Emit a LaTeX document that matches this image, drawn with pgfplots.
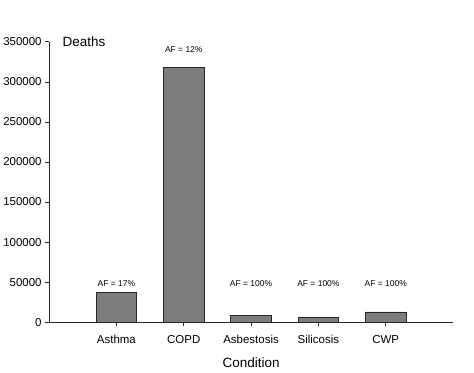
\documentclass[border=0pt]{standalone}
\usepackage{fontspec}
\setmainfont{Liberation Sans}
\usepackage{pgfplots}
\pgfplotsset{compat=1.18}
\definecolor{barfill}{RGB}{125,125,125}
\begin{document}
\begin{tikzpicture}
\path (-48pt,-50pt) rectangle (426pt,323pt);
\begin{axis}[
  anchor=south west, at={(0pt,0pt)},
  scale only axis, width=405pt, height=281pt,
  xmin=-1, xmax=5, ymin=0, ymax=350000,
  axis x line*=bottom, axis y line*=left,
  axis line style={-, line width=0.8pt, black!85},
  ytick={0,50000,100000,150000,200000,250000,300000,350000},
  scaled y ticks=false,
  /pgf/number format/assume math mode=true,
  yticklabel style={/pgf/number format/fixed, /pgf/number format/1000 sep={}},
  xtick={0,1,2,3,4},
  xticklabels={Asthma,COPD,Asbestosis,Silicosis,CWP},
  tick align=outside, major tick length=4pt,
  tick style={black!85, line width=0.8pt},
  ticklabel style={font=\fontsize{11.5}{13}\selectfont},
  xticklabel style={yshift=-6pt},
  xlabel={Condition},
  xlabel style={font=\fontsize{13.5}{15}\selectfont, yshift=-7pt},
  clip=false,
]
\addplot[ybar, bar width=40.5pt, fill=barfill, draw=black!85, line width=0.8pt]
  coordinates {(0,37000) (1,318000) (2,8000) (3,6000) (4,12800)};
\node[font=\fontsize{8.5}{10}\selectfont] at (axis cs:0,48600) {AF = 17\%};
\node[font=\fontsize{8.5}{10}\selectfont] at (axis cs:1,340000) {AF = 12\%};
\node[font=\fontsize{8.5}{10}\selectfont] at (axis cs:2,48600) {AF = 100\%};
\node[font=\fontsize{8.5}{10}\selectfont] at (axis cs:3,48600) {AF = 100\%};
\node[font=\fontsize{8.5}{10}\selectfont] at (axis cs:4,48600) {AF = 100\%};
\node[anchor=west, xshift=10pt, font=\fontsize{13.5}{15}\selectfont] at (rel axis cs:0,1) {Deaths};
\end{axis}
\end{tikzpicture}
\end{document}
